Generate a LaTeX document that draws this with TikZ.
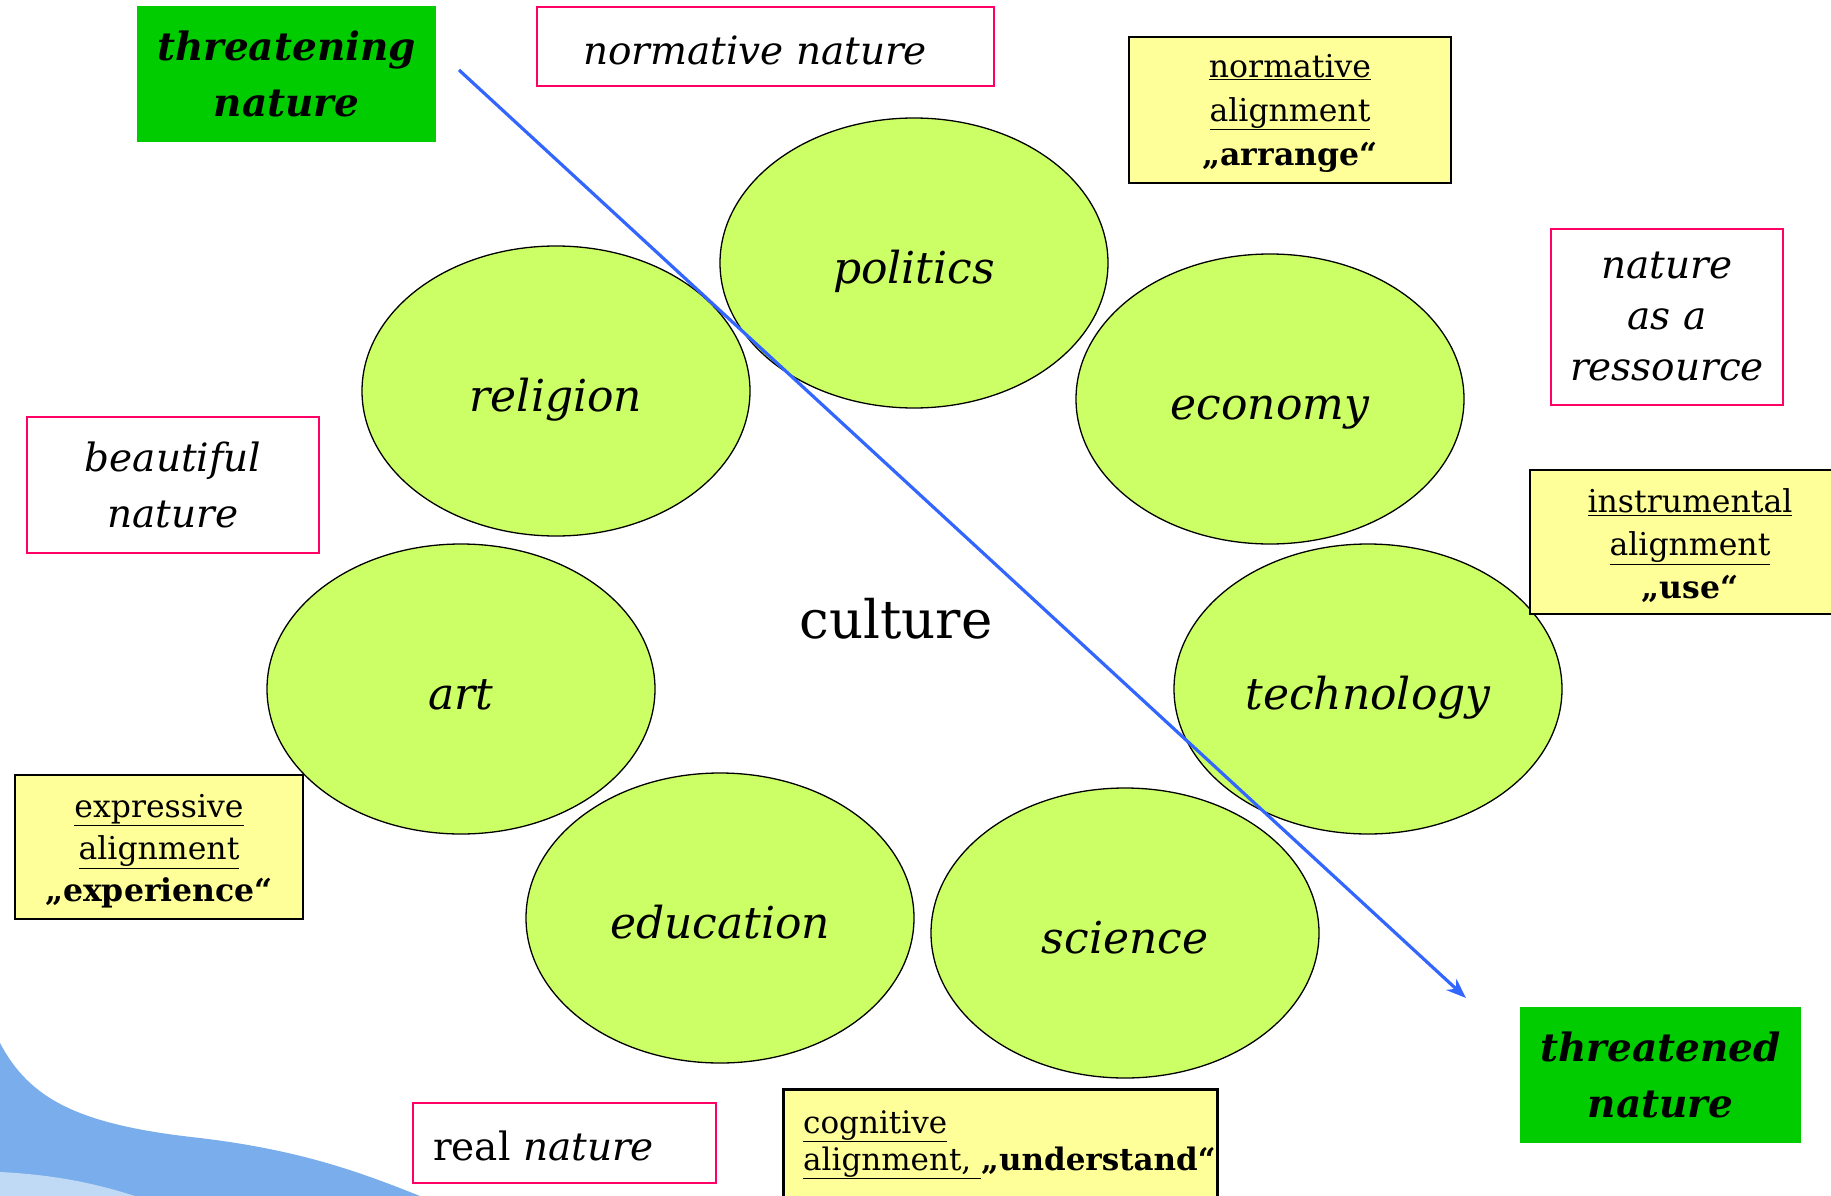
\documentclass[tikz,border=0pt]{standalone}
\usepackage{fontspec}
\setmainfont{DejaVu Serif}
\usetikzlibrary{shapes.geometric,arrows.meta}
\definecolor{ellfill}{HTML}{CCFF66}
\definecolor{pinkline}{HTML}{FF0066}
\definecolor{yellowfill}{HTML}{FFFF99}
\definecolor{greenfill}{HTML}{00CC00}
\definecolor{arrowblue}{HTML}{3366FF}
\definecolor{wavedark}{HTML}{7AADEB}
\definecolor{wavelight}{HTML}{C0D9F5}
\tikzset{
  x=1pt, y=-1pt,
  ell/.style={ellipse, draw=black, line width=1.3pt, fill=ellfill, minimum width=388, minimum height=290, inner sep=0pt},
  elltext/.style={inner sep=0pt, anchor=base, font=\fontsize{44}{52}\selectfont\itshape},
  pinkbox/.style={draw=pinkline, line width=2.6pt, fill=white, inner sep=0pt},
  yellowbox/.style={draw=black, line width=1.6pt, fill=yellowfill, inner sep=0pt},
  greenbox/.style={fill=greenfill, inner sep=0pt},
  txt/.style={inner sep=0pt, align=center},
}
\begin{document}
\begin{tikzpicture}
\useasboundingbox (0,0) rectangle (1831,1196);
\clip (0,0) rectangle (1831,1196);
\fill[white] (0,0) rectangle (1831,1196);
% background wave
\fill[wavedark] (0,1043) .. controls (30,1100) and (80,1125) .. (200,1138) .. controls (300,1150) and (360,1172) .. (420,1196) -- (0,1196) -- cycle;
\fill[wavelight] (0,1172) .. controls (60,1175) and (100,1185) .. (135,1196) -- (0,1196) -- cycle;

% ellipses
\node[ell] (politics) at (914,263) {};
\node[ell] (religion) at (556,391) {};
\node[ell] (economy) at (1270,399) {};
\node[ell] (technology) at (1368,689) {};
\node[ell] (art) at (461,689) {};
\node[ell] (education) at (720,918) {};
\node[ell] (science) at (1125,933) {};
\node[elltext] at ([yshift=-20pt]politics.center) {politics};
\node[elltext] at ([yshift=-20pt]religion.center) {religion};
\node[elltext] at ([yshift=-20pt]economy.center) {economy};
\node[elltext] at ([yshift=-20pt]technology.center) {technology};
\node[elltext] at ([yshift=-20pt]art.center) {art};
\node[elltext] at ([yshift=-20pt]education.center) {education};
\node[elltext] at ([yshift=-20pt]science.center) {science};
\node[txt, font=\fontsize{53}{60}\selectfont] (culture) at (896,619) {culture};

% arrow
\coordinate (a0) at (459,70);
\coordinate (a1) at (1466,998);
\draw[arrowblue, line width=3.2pt, -{Stealth[length=20pt,width=15pt]}] (a0) -- (a1);

% green boxes
\node[greenbox, minimum width=299, minimum height=136] (threatening) at (286.5,74) {};
\node[txt, font=\fontsize{39}{56}\selectfont\bfseries\itshape] at (threatening.center) {threatening\\nature};
\node[greenbox, minimum width=281, minimum height=136] (threatened) at (1660.5,1075) {};
\node[txt, font=\fontsize{39}{56}\selectfont\bfseries\itshape] at (threatened.center) {threatened\\nature};

% pink boxes
\node[pinkbox, minimum width=457, minimum height=79] (normnature) at (765.5,46.5) {};
\node[txt, font=\fontsize{39}{50}\selectfont\itshape] at (755,50) {normative nature};
\node[pinkbox, minimum width=232, minimum height=176] (ressource) at (1667,317) {};
\node[txt, font=\fontsize{39}{51}\selectfont\itshape] at (ressource.center) {nature\\as a\\ressource};
\node[pinkbox, minimum width=292, minimum height=136] (beautiful) at (173,485) {};
\node[txt, font=\fontsize{39}{56}\selectfont\itshape] at (beautiful.center) {beautiful\\nature};
\node[pinkbox, minimum width=303, minimum height=80] (real) at (564.5,1143) {};
\node[txt, anchor=base west, font=\fontsize{39}{50}\selectfont] at (433,1160) {real \textit{nature}};

% yellow boxes
\node[yellowbox, minimum width=322, minimum height=146] (normalign) at (1290,110) {};
\node[txt, font=\fontsize{31.5}{44}\selectfont] at (1290,113) {\underline{normative}\\\underline{alignment}\\\textbf{„arrange“}};
\node[yellowbox, minimum width=320, minimum height=144] (instralign) at (1690,542) {};
\node[txt, font=\fontsize{31.5}{43}\selectfont] at (1690,546) {\underline{instrumental}\\\underline{alignment}\\\textbf{„use“}};
\node[yellowbox, minimum width=288, minimum height=144] (expralign) at (159,847) {};
\node[txt, font=\fontsize{31.5}{42}\selectfont] at (159,851) {\underline{expressive}\\\underline{alignment}\\\textbf{„experience“}};
\node[yellowbox, line width=3pt, minimum width=434, minimum height=140, anchor=north west] (cognalign) at (782,1088) {};
\node[txt, anchor=north west, align=left, font=\fontsize{31}{37}\selectfont] at (803,1110) {\underline{cognitive}\\\underline{alignment,\ }\textbf{„understand“}};
\end{tikzpicture}
\end{document}
